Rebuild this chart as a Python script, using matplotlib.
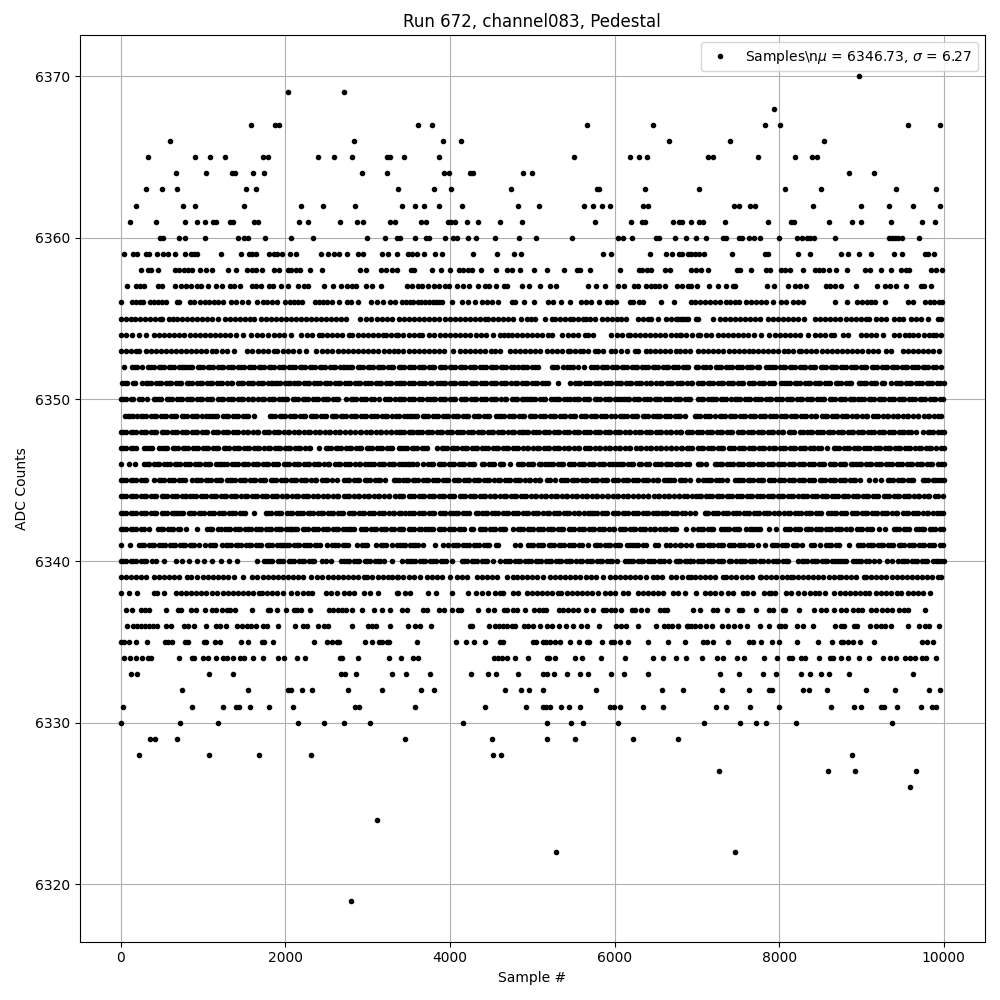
import matplotlib
matplotlib.use("Agg")
import matplotlib.pyplot as plt

# Sample numbers, one list per ADC count level.
# Sparse levels are read dot by dot; in the densest rows, where dots overlap,
# the sample numbers are visual estimates that follow the visible runs and gaps.
s6370 = [8970]
s6369 = [2037, 2718]
s6368 = [7939]
s6367 = [1588, 1879, 1928, 3608, 3778, 5670, 6471, 7830, 8012, 9565, 9953]
s6366 = [603, 2839, 3911, 4129, 6666, 7405, 8546]
s6365 = [336, 907, 1089, 1272, 1729, 1794, 2402, 2596, 2815, 3240, 3272, 3438, 3862, 5513, 6184, 6302, 6399, 7134, 7190, 7745, 8194, 8400, 8461]
s6364 = [676, 1041, 1357, 1385, 1612, 1746, 2936, 3240, 3923, 3984, 4239, 4275, 4882, 4991, 8849, 9152]
s6363 = [312, 506, 689, 1527, 1648, 3374, 3802, 4008, 4736, 5792, 5816, 6374, 7029, 8072, 8509, 9419, 9905]
s6362 = [190, 761, 907, 1503, 2195, 2462, 2851, 3413, 3571, 3680, 3862, 4141, 4821, 5076, 5634, 5743, 5853, 5950, 6350, 6411, 7454, 7514, 7648, 7708, 8412, 8995, 9335, 9626, 9953]
s6361 = [117, 433, 786, 923, 1029, 1126, 1162, 1332, 1369, 1624, 1673, 2171, 2280, 2669, 2876, 2948, 3276, 3337, 3644, 3705, 3972, 4008, 4057, 4202, 4336, 4603, 4870, 5768, 6204, 6338, 6374, 6714, 6787, 6823, 6932, 7029, 7077, 7344, 7866, 8145, 8182, 8606, 8886, 8995, 9359, 9735, 9893]
s6360 = [482, 518, 713, 786, 1029, 1430, 1503, 1551, 1758, 2074, 2341, 2997, 3216, 3361, 3393, 3571, 3705, 3741, 3935, 4032, 4081, 4214, 4311, 4542, 4833, 5040, 5488, 6047, 6107, 6217, 6508, 6544, 6738, 6872, 6993, 7114, 7320, 7357, 7514, 7551, 7636, 7696, 7769, 8000, 8218, 8279, 8340, 8376, 8424, 8679, 9335, 9371, 9407, 9444, 9492, 9699]
s6359 = [45, 154, 202, 312, 349, 446, 518, 579, 664, 786, 859, 895, 932, 1223, 1466, 1563, 1600, 1648, 1806, 1867, 1904, 1964, 2062, 2134, 2438, 2523, 2596, 2657, 2754, 2888, 2948, 3179, 3252, 3361, 3486, 3535, 3595, 3680, 3814, 3899, 4275, 4566, 4773, 4858, 5865, 5962, 6435, 6629, 6702, 6787, 6823, 6896, 6932, 6980, 7029, 7090, 7430, 7830, 7866, 8230, 8376, 8752, 8837, 8970, 9116, 9395, 9492, 9771, 9808, 9880]
s6358 = [251, 336, 373, 458, 664, 713, 774, 822, 871, 968, 1041, 1114, 1308, 1405, 1539, 1600, 1648, 1721, 1867, 1928, 2037, 2074, 2134, 2183, 2304, 2450, 2912, 2985, 3167, 3228, 3301, 3361, 3523, 3559, 3778, 3887, 3996, 4105, 4154, 4214, 4263, 4372, 4554, 4688, 4748, 4845, 5027, 5173, 5391, 5549, 5585, 5707, 6071, 6302, 6338, 6399, 6447, 6614, 6675, 6932, 6992, 7053, 7138, 7490, 7526, 7660, 7842, 7890, 8024, 8072, 8133, 8291, 8437, 8485, 8534, 8606, 8691, 8825, 9043, 9104, 9238, 9359, 9480, 9541, 9577, 9844, 9905, 9978]
s6357 = [81, 190, 239, 288, 458, 506, 664, 737, 798, 859, 932, 980, 1065, 1162, 1235, 1332, 1381, 1454, 1600, 1648, 1709, 1806, 1855, 1952, 2037, 2159, 2232, 2280, 2475, 2584, 2681, 2754, 2815, 2863, 2985, 3058, 3167, 3474, 3535, 3608, 3656, 3729, 3802, 3862, 3935, 3984, 4081, 4154, 4226, 4336, 4421, 4469, 4554, 4651, 4688, 4870, 4955, 5088, 5221, 5294, 5683, 5780, 5889, 6047, 6120, 6241, 6289, 6387, 6447, 6496, 6544, 6617, 6763, 6823, 6896, 6932, 7005, 7150, 7256, 7357, 7441, 7466, 7854, 7939, 8109, 8194, 8255, 8327, 8570, 8619, 8679, 8752, 8934, 9189, 9286, 9347, 9419, 9541, 9723, 9759, 9844]
s6356 = [8, 142, 190, 239, 275, 360, 409, 458, 506, 555, 689, 713, 847, 895, 968, 1029, 1077, 1138, 1187, 1247, 1345, 1405, 1478, 1551, 1660, 1733, 1782, 1843, 1904, 2001, 2062, 2110, 2159, 2207, 2365, 2414, 2462, 2511, 2572, 2657, 2754, 2803, 2888, 3046, 3118, 3191, 3276, 3337, 3413, 3470, 3510, 3555, 3610, 3650, 3700, 3750, 3790, 3830, 3870, 3900, 4020, 4141, 4222, 4303, 4384, 4445, 4506, 4587, 4748, 4789, 4894, 5027, 5193, 5254, 5355, 5460, 5598, 5658, 5719, 5808, 5913, 5962, 6022, 6192, 6229, 6302, 6350, 6569, 6726, 6932, 6972, 7033, 7094, 7154, 7215, 7276, 7357, 7405, 7466, 7510, 7600, 7660, 7720, 7781, 7842, 7923, 8024, 8085, 8165, 8226, 8287, 8679, 8825, 8946, 9007, 9068, 9116, 9165, 9286, 9565, 9626, 9771, 9832, 9880, 9941, 9978]
s6355 = [3, 62, 121, 178, 240, 301, 362, 421, 480, 506, 587, 640, 689, 749, 810, 871, 930, 990, 1052, 1114, 1187, 1268, 1330, 1392, 1455, 1512, 1571, 1620, 1701, 1760, 1822, 1885, 1944, 2006, 2068, 2126, 2187, 2250, 2310, 2369, 2430, 2492, 2553, 2615, 2676, 2734, 2904, 2977, 3040, 3118, 3179, 3240, 3301, 3381, 3440, 3502, 3565, 3626, 3688, 3750, 3811, 3872, 3934, 3995, 4057, 4118, 4180, 4240, 4302, 4365, 4425, 4465, 4526, 4588, 4650, 4710, 4769, 4862, 4930, 4982, 5032, 5153, 5234, 5274, 5336, 5398, 5460, 5497, 5557, 5620, 5658, 5699, 5760, 5848, 5910, 5972, 6034, 6083, 6144, 6285, 6347, 6400, 6447, 6528, 6629, 6690, 6752, 6812, 6872, 6993, 6770, 6830, 6891, 7013, 7195, 7276, 7338, 7399, 7460, 7522, 7584, 7645, 7706, 7761, 7862, 7923, 7985, 8046, 8108, 8170, 8232, 8307, 8437, 8498, 8560, 8621, 8683, 8744, 8813, 8873, 8935, 8996, 9058, 9096, 9177, 9238, 9298, 9399, 9460, 9500, 9601, 9663, 9725, 9804, 9925, 9965]
s6354 = [0, 60, 142, 223, 304, 405, 466, 528, 590, 652, 714, 775, 836, 898, 960, 1022, 1084, 1146, 1208, 1270, 1332, 1397, 1490, 1580, 1660, 1722, 1784, 1863, 1924, 1986, 2066, 2187, 2268, 2330, 2410, 2442, 2504, 2566, 2628, 2690, 2774, 2815, 2877, 2939, 3001, 3063, 3125, 3187, 3220, 3280, 3341, 3373, 3435, 3497, 3559, 3621, 3656, 3745, 3807, 3879, 3939, 4001, 4063, 4125, 4187, 4249, 4311, 4373, 4435, 4526, 4607, 4660, 4708, 4748, 4810, 4872, 4934, 4996, 5058, 5120, 5193, 5242, 5363, 5436, 5498, 5560, 5638, 5680, 5740, 5962, 6024, 6086, 6164, 6184, 6246, 6308, 6370, 6432, 6494, 6556, 6618, 6680, 6742, 6791, 6811, 6873, 6935, 7013, 7033, 7114, 7176, 7255, 7316, 7378, 7440, 7502, 7564, 7626, 7688, 7781, 7882, 7944, 8006, 8068, 8130, 8192, 8254, 8347, 8437, 8499, 8561, 8631, 8671, 8772, 8834, 8995, 9057, 9119, 9181, 9258, 9399, 9461, 9523, 9581, 9622, 9684, 9763, 9824, 9864, 9905, 9965]
s6353 = [0, 60, 122, 180, 223, 304, 365, 427, 489, 547, 607, 669, 731, 793, 855, 917, 979, 1041, 1113, 1154, 1235, 1297, 1377, 1539, 1601, 1663, 1725, 1787, 1863, 1904, 1966, 2028, 2090, 2167, 2247, 2369, 2450, 2511, 2573, 2635, 2697, 2759, 2821, 2883, 2945, 3007, 3069, 3131, 3193, 3255, 3317, 3373, 3435, 3497, 3559, 3621, 3683, 3745, 3807, 3869, 3931, 4040, 4121, 4183, 4245, 4307, 4369, 4431, 4493, 4546, 4607, 4728, 4790, 4850, 4910, 4972, 5034, 5096, 5173, 5234, 5296, 5358, 5436, 5456, 5518, 5580, 5618, 5680, 5760, 5800, 5862, 5962, 6002, 6083, 6145, 6245, 6285, 6387, 6427, 6489, 6551, 6613, 6675, 6750, 6791, 6853, 6915, 7013, 7075, 7137, 7199, 7261, 7323, 7385, 7447, 7509, 7571, 7633, 7680, 7740, 7802, 7864, 7926, 7988, 8064, 8105, 8167, 8246, 8267, 8329, 8391, 8453, 8515, 8577, 8639, 8701, 8763, 8825, 8887, 8949, 9011, 9073, 9135, 9197, 9298, 9359, 9500, 9562, 9624, 9686, 9748, 9810, 9872, 9945]
s6352 = [40, 142, 204, 263, 337, 399, 461, 523, 585, 647, 709, 770, 810, 872, 934, 996, 1058, 1120, 1182, 1244, 1306, 1368, 1430, 1492, 1554, 1616, 1678, 1740, 1802, 1864, 1926, 1988, 2050, 2112, 2174, 2236, 2298, 2360, 2422, 2484, 2546, 2608, 2670, 2714, 2754, 2816, 2878, 2940, 3002, 3064, 3126, 3188, 3250, 3312, 3381, 3440, 3502, 3564, 3626, 3688, 3750, 3812, 3874, 3936, 3998, 4060, 4122, 4184, 4246, 4308, 4370, 4432, 4494, 4556, 4618, 4680, 4742, 4829, 4870, 4932, 4994, 5072, 5242, 5304, 5375, 5428, 5490, 5557, 5630, 5719, 5781, 5843, 5905, 5967, 6029, 6091, 6153, 6215, 6277, 6339, 6401, 6463, 6525, 6587, 6649, 6711, 6773, 6835, 6897, 7013, 7075, 7154, 7235, 7297, 7359, 7421, 7483, 7545, 7607, 7669, 7731, 7842, 7882, 7944, 8006, 8068, 8130, 8192, 8254, 8316, 8378, 8440, 8502, 8564, 8626, 8688, 8750, 8812, 8874, 8936, 8998, 9060, 9122, 9184, 9246, 9308, 9370, 9432, 9494, 9556, 9618, 9680, 9742, 9804, 9866, 9965]
s6351 = [20, 82, 144, 263, 304, 366, 428, 490, 552, 614, 676, 738, 800, 862, 924, 986, 1048, 1110, 1172, 1234, 1296, 1358, 1420, 1482, 1544, 1606, 1668, 1730, 1792, 1843, 1875, 1937, 1999, 2061, 2106, 2168, 2230, 2292, 2354, 2416, 2478, 2540, 2602, 2664, 2726, 2788, 2850, 2912, 2974, 3036, 3098, 3160, 3222, 3284, 3346, 3381, 3443, 3505, 3567, 3629, 3691, 3753, 3838, 3879, 3941, 4003, 4065, 4127, 4189, 4251, 4313, 4375, 4437, 4499, 4561, 4623, 4685, 4747, 4809, 4871, 4933, 4995, 5057, 5119, 5193, 5315, 5460, 5517, 5579, 5641, 5703, 5765, 5827, 5889, 5951, 6013, 6075, 6137, 6199, 6261, 6323, 6385, 6447, 6509, 6571, 6633, 6695, 6757, 6819, 6881, 6943, 7013, 7070, 7132, 7194, 7256, 7318, 7380, 7442, 7504, 7566, 7628, 7690, 7752, 7814, 7876, 7938, 8024, 8064, 8126, 8188, 8250, 8312, 8374, 8436, 8498, 8560, 8622, 8684, 8746, 8808, 8870, 8975, 8995, 9057, 9119, 9181, 9246, 9278, 9359, 9419, 9481, 9543, 9605, 9667, 9729, 9791, 9853, 9915, 10000]
s6350 = [0, 62, 124, 223, 255, 317, 405, 433, 495, 557, 619, 681, 743, 805, 867, 929, 991, 1053, 1115, 1177, 1239, 1301, 1363, 1425, 1487, 1549, 1611, 1673, 1735, 1797, 1859, 1924, 1964, 2026, 2088, 2150, 2212, 2274, 2336, 2398, 2460, 2522, 2584, 2646, 2734, 2795, 2857, 2919, 2981, 3043, 3139, 3212, 3274, 3336, 3381, 3443, 3505, 3567, 3629, 3717, 3757, 3819, 3881, 3943, 4005, 4067, 4129, 4191, 4253, 4315, 4377, 4439, 4501, 4563, 4625, 4687, 4749, 4811, 4873, 4930, 4971, 5033, 5095, 5157, 5226, 5266, 5328, 5390, 5456, 5509, 5571, 5633, 5695, 5757, 5819, 5881, 5943, 6005, 6083, 6115, 6177, 6239, 6301, 6363, 6425, 6487, 6549, 6611, 6673, 6735, 6797, 6859, 6921, 7013, 7075, 7134, 7166, 7228, 7290, 7352, 7417, 7458, 7520, 7582, 7644, 7706, 7781, 7842, 7904, 7966, 8028, 8090, 8152, 8214, 8276, 8338, 8400, 8462, 8530, 8550, 8612, 8674, 8736, 8798, 8860, 8914, 8962, 9024, 9086, 9148, 9210, 9272, 9334, 9396, 9458, 9520, 9582, 9644, 9706, 9768, 9830, 9892, 9986]
s6349 = [53, 115, 202, 243, 305, 367, 429, 491, 553, 615, 677, 739, 801, 863, 925, 987, 1073, 1114, 1176, 1238, 1300, 1362, 1424, 1486, 1548, 1620, 1810, 1872, 1934, 1996, 2058, 2120, 2182, 2244, 2306, 2368, 2430, 2492, 2572, 2612, 2674, 2736, 2798, 2860, 2922, 2984, 3046, 3108, 3170, 3232, 3294, 3381, 3443, 3515, 3543, 3605, 3667, 3729, 3791, 3853, 3915, 3977, 4039, 4101, 4163, 4225, 4287, 4349, 4411, 4473, 4554, 4595, 4657, 4719, 4781, 4843, 4905, 4967, 5029, 5091, 5153, 5215, 5277, 5339, 5401, 5463, 5525, 5587, 5649, 5711, 5773, 5835, 5897, 5959, 6063, 6091, 6153, 6215, 6277, 6346, 6407, 6469, 6508, 6548, 6610, 6672, 6734, 6796, 6858, 6973, 7035, 7097, 7159, 7215, 7276, 7336, 7398, 7460, 7522, 7584, 7646, 7708, 7770, 7832, 7894, 7956, 8018, 8080, 8142, 8204, 8266, 8328, 8390, 8452, 8514, 8576, 8638, 8700, 8762, 8824, 8886, 8948, 9010, 9072, 9134, 9196, 9258, 9320, 9382, 9444, 9506, 9568, 9630, 9692, 9754, 9816, 9878, 9965]
s6348 = [0, 62, 124, 186, 248, 310, 372, 434, 496, 558, 620, 682, 744, 806, 868, 930, 992, 1054, 1116, 1178, 1240, 1302, 1364, 1426, 1488, 1550, 1612, 1674, 1736, 1798, 1860, 1922, 1984, 2046, 2108, 2170, 2232, 2294, 2356, 2418, 2480, 2542, 2604, 2666, 2728, 2790, 2852, 2914, 2976, 3038, 3100, 3162, 3224, 3286, 3348, 3381, 3443, 3505, 3555, 3595, 3657, 3719, 3781, 3843, 3905, 3967, 4029, 4091, 4153, 4215, 4277, 4339, 4401, 4463, 4525, 4587, 4649, 4711, 4773, 4835, 4870, 4890, 4952, 5014, 5076, 5138, 5200, 5262, 5324, 5386, 5448, 5510, 5572, 5634, 5696, 5758, 5820, 5882, 5944, 6006, 6068, 6130, 6192, 6254, 6316, 6378, 6440, 6502, 6564, 6626, 6688, 6750, 6812, 6874, 6936, 6998, 7060, 7122, 7184, 7246, 7308, 7370, 7432, 7494, 7556, 7618, 7680, 7742, 7804, 7866, 7928, 7990, 8052, 8114, 8176, 8287, 8340, 8402, 8464, 8526, 8588, 8650, 8712, 8774, 8836, 8898, 8960, 9022, 9084, 9146, 9208, 9270, 9332, 9394, 9456, 9518, 9601, 9666, 9743, 9805, 9867, 9929, 10000]
s6347 = [0, 62, 124, 186, 284, 324, 386, 466, 506, 568, 630, 692, 754, 816, 878, 940, 1002, 1064, 1126, 1188, 1250, 1312, 1374, 1436, 1498, 1560, 1622, 1684, 1746, 1808, 1870, 1932, 1994, 2056, 2118, 2180, 2242, 2304, 2414, 2491, 2553, 2615, 2677, 2739, 2801, 2863, 2925, 2987, 3049, 3111, 3173, 3235, 3297, 3381, 3405, 3474, 3536, 3598, 3660, 3722, 3838, 3899, 3961, 4023, 4085, 4147, 4209, 4271, 4333, 4395, 4457, 4519, 4581, 4643, 4705, 4767, 4829, 4891, 4953, 5015, 5077, 5139, 5201, 5263, 5325, 5387, 5449, 5511, 5573, 5635, 5697, 5759, 5821, 5883, 5945, 6007, 6069, 6131, 6193, 6255, 6317, 6379, 6441, 6503, 6565, 6627, 6689, 6751, 6813, 6875, 6937, 7013, 7075, 7137, 7199, 7261, 7323, 7385, 7447, 7509, 7571, 7633, 7695, 7757, 7819, 7881, 7943, 8005, 8067, 8129, 8191, 8253, 8315, 8377, 8428, 8469, 8509, 8578, 8663, 8725, 8787, 8849, 8911, 8973, 9035, 9097, 9159, 9221, 9283, 9345, 9407, 9469, 9531, 9593, 9655, 9717, 9779, 9841, 9903, 10000]
s6346 = [0, 101, 174, 284, 346, 408, 470, 532, 594, 656, 718, 780, 842, 904, 966, 1028, 1090, 1152, 1214, 1256, 1296, 1358, 1420, 1482, 1544, 1606, 1668, 1730, 1792, 1854, 1916, 1978, 2040, 2102, 2164, 2226, 2288, 2350, 2412, 2474, 2536, 2598, 2660, 2722, 2784, 2846, 2908, 2970, 3038, 3078, 3140, 3202, 3264, 3326, 3381, 3413, 3454, 3516, 3595, 3676, 3738, 3800, 3862, 3924, 3986, 4048, 4110, 4172, 4234, 4296, 4384, 4417, 4479, 4541, 4603, 4647, 4728, 4829, 4891, 4953, 5015, 5077, 5153, 5193, 5255, 5317, 5379, 5441, 5503, 5565, 5627, 5689, 5751, 5813, 5875, 5937, 6002, 6043, 6105, 6167, 6229, 6291, 6387, 6415, 6496, 6558, 6620, 6682, 6744, 6806, 6868, 7013, 7053, 7115, 7215, 7247, 7309, 7371, 7433, 7495, 7557, 7619, 7681, 7743, 7805, 7867, 7929, 7991, 8053, 8115, 8177, 8239, 8301, 8363, 8425, 8487, 8549, 8611, 8673, 8735, 8797, 8894, 8934, 8995, 9055, 9117, 9179, 9241, 9303, 9365, 9427, 9489, 9551, 9613, 9675, 9737, 9799, 9861, 9923, 10000]
s6345 = [0, 62, 124, 186, 248, 310, 405, 466, 528, 590, 652, 714, 776, 871, 911, 973, 1035, 1097, 1159, 1221, 1296, 1324, 1386, 1448, 1510, 1572, 1634, 1696, 1758, 1820, 1882, 1944, 2006, 2068, 2130, 2192, 2254, 2316, 2378, 2440, 2502, 2572, 2633, 2714, 2776, 2838, 2900, 2962, 3024, 3086, 3148, 3210, 3321, 3381, 3434, 3486, 3548, 3610, 3672, 3734, 3796, 3858, 3920, 3982, 4044, 4106, 4168, 4230, 4292, 4354, 4416, 4478, 4540, 4602, 4664, 4726, 4788, 4850, 4912, 4974, 5036, 5098, 5173, 5213, 5274, 5355, 5417, 5479, 5541, 5603, 5665, 5727, 5789, 5851, 5913, 5975, 6037, 6099, 6161, 6223, 6285, 6347, 6409, 6471, 6533, 6595, 6657, 6719, 6790, 6859, 6921, 7013, 7073, 7114, 7176, 7238, 7300, 7362, 7458, 7498, 7560, 7622, 7684, 7746, 7808, 7870, 7932, 7994, 8056, 8118, 8180, 8242, 8304, 8366, 8428, 8490, 8552, 8614, 8676, 8738, 8800, 8862, 8924, 8986, 9096, 9165, 9238, 9318, 9380, 9442, 9504, 9566, 9628, 9743, 9804, 9866, 9928, 10000]
s6344 = [0, 62, 124, 186, 248, 310, 372, 434, 496, 558, 620, 682, 744, 798, 847, 909, 971, 1033, 1095, 1157, 1219, 1281, 1343, 1405, 1467, 1529, 1591, 1653, 1715, 1777, 1839, 1901, 1963, 2025, 2087, 2149, 2211, 2273, 2335, 2397, 2459, 2521, 2583, 2645, 2707, 2769, 2831, 2893, 2955, 3017, 3079, 3141, 3203, 3265, 3327, 3381, 3435, 3497, 3559, 3621, 3683, 3745, 3807, 3869, 3931, 3993, 4055, 4117, 4179, 4241, 4303, 4365, 4427, 4489, 4551, 4613, 4675, 4737, 4799, 4861, 4923, 4985, 5047, 5109, 5171, 5233, 5295, 5357, 5419, 5481, 5543, 5605, 5667, 5729, 5791, 5853, 5915, 5977, 6039, 6101, 6163, 6225, 6287, 6349, 6411, 6473, 6535, 6597, 6659, 6721, 6783, 6845, 6940, 6992, 7054, 7116, 7178, 7240, 7302, 7364, 7426, 7488, 7550, 7612, 7674, 7736, 7798, 7860, 7922, 7984, 8046, 8108, 8170, 8226, 8275, 8337, 8399, 8461, 8523, 8585, 8647, 8709, 8771, 8833, 8895, 8957, 9019, 9081, 9143, 9205, 9267, 9329, 9391, 9453, 9515, 9577, 9639, 9701, 9763, 9825, 9887, 9986]
s6343 = [0, 62, 124, 186, 248, 310, 372, 434, 496, 558, 620, 668, 701, 763, 825, 887, 949, 1011, 1073, 1135, 1197, 1259, 1321, 1383, 1445, 1507, 1620, 1762, 1824, 1886, 1948, 2025, 2086, 2148, 2210, 2272, 2334, 2396, 2458, 2520, 2582, 2644, 2706, 2768, 2830, 2892, 2954, 3016, 3078, 3140, 3202, 3264, 3326, 3381, 3454, 3502, 3564, 3626, 3688, 3750, 3812, 3874, 3936, 4000, 4040, 4102, 4164, 4226, 4344, 4392, 4454, 4516, 4578, 4640, 4702, 4764, 4826, 4888, 4950, 5012, 5074, 5136, 5198, 5260, 5322, 5384, 5446, 5508, 5570, 5632, 5699, 5727, 5789, 5851, 5913, 5975, 6037, 6099, 6161, 6223, 6285, 6347, 6409, 6471, 6528, 6577, 6639, 6701, 6763, 6852, 6912, 6974, 7094, 7134, 7196, 7258, 7320, 7382, 7444, 7506, 7568, 7630, 7692, 7754, 7816, 7878, 7940, 8002, 8064, 8126, 8188, 8267, 8327, 8389, 8451, 8513, 8590, 8631, 8693, 8755, 8817, 8879, 8941, 9003, 9065, 9127, 9189, 9251, 9313, 9375, 9437, 9499, 9561, 9623, 9685, 9747, 9809, 9871, 9986]
s6342 = [0, 62, 124, 186, 248, 344, 454, 516, 578, 640, 725, 798, 932, 1053, 1115, 1215, 1268, 1330, 1392, 1454, 1516, 1578, 1640, 1702, 1764, 1826, 1888, 1950, 2012, 2066, 2086, 2148, 2210, 2272, 2334, 2396, 2458, 2520, 2582, 2644, 2706, 2768, 2835, 2916, 2978, 3040, 3102, 3164, 3226, 3288, 3381, 3435, 3497, 3559, 3621, 3697, 3737, 3799, 3861, 3923, 3985, 4047, 4109, 4171, 4283, 4364, 4426, 4488, 4550, 4612, 4674, 4769, 4821, 4883, 4945, 5007, 5069, 5131, 5193, 5255, 5317, 5379, 5441, 5503, 5565, 5627, 5689, 5751, 5813, 5875, 5937, 5999, 6061, 6123, 6185, 6247, 6309, 6371, 6433, 6495, 6557, 6619, 6681, 6743, 6872, 6953, 7013, 7075, 7137, 7199, 7288, 7328, 7390, 7452, 7514, 7599, 7640, 7702, 7764, 7882, 7963, 8072, 8134, 8196, 8258, 8320, 8382, 8444, 8506, 8568, 8630, 8692, 8754, 8816, 8878, 8940, 9002, 9064, 9126, 9217, 9286, 9391, 9453, 9515, 9577, 9662, 9703, 9765, 9827, 9889, 9986]
s6341 = [8, 109, 223, 285, 347, 409, 471, 533, 595, 657, 719, 781, 843, 891, 951, 1025, 1087, 1149, 1235, 1276, 1338, 1400, 1462, 1524, 1586, 1648, 1710, 1772, 1834, 1896, 1964, 1985, 2047, 2109, 2171, 2233, 2295, 2357, 2419, 2511, 2572, 2634, 2696, 2758, 2876, 2936, 2998, 3098, 3159, 3221, 3301, 3361, 3393, 3455, 3517, 3575, 3616, 3678, 3818, 3919, 3980, 4040, 4102, 4164, 4226, 4288, 4350, 4412, 4474, 4586, 4789, 4850, 4950, 5012, 5074, 5136, 5198, 5260, 5322, 5384, 5446, 5508, 5570, 5679, 5759, 5821, 5883, 5945, 6007, 6069, 6184, 6225, 6287, 6349, 6487, 6528, 6629, 6670, 6732, 6811, 6872, 6934, 7013, 6790, 7075, 7137, 7199, 7261, 7323, 7385, 7447, 7509, 7571, 7633, 7741, 7830, 7911, 7973, 8035, 8097, 8165, 8218, 8280, 8388, 8428, 8501, 8570, 8632, 8694, 8853, 8954, 9016, 9078, 9140, 9202, 9264, 9326, 9388, 9450, 9512, 9574, 9636, 9698, 9760, 9822, 9884, 9986]
s6340 = [0, 62, 124, 186, 248, 310, 385, 433, 527, 676, 749, 830, 932, 1012, 1114, 1215, 1316, 1418, 1660, 1742, 1782, 1844, 1906, 1968, 2045, 2106, 2168, 2230, 2292, 2354, 2450, 2491, 2553, 2673, 2714, 2776, 2838, 2900, 2962, 3024, 3086, 3148, 3200, 3293, 3413, 3474, 3515, 3577, 3639, 3701, 3763, 3825, 3887, 3949, 4020, 4141, 4203, 4265, 4327, 4389, 4451, 4526, 4607, 4669, 4731, 4793, 4855, 4917, 4979, 5041, 5103, 5165, 5227, 5289, 5351, 5413, 5475, 5537, 5599, 5661, 5723, 5785, 5847, 5909, 5971, 6033, 6124, 6164, 6226, 6288, 6350, 6412, 6474, 6536, 6598, 6660, 6751, 6791, 6853, 6915, 7013, 6770, 6912, 6952, 7075, 7137, 7199, 7261, 7323, 7385, 7478, 7519, 7581, 7643, 7705, 7767, 7862, 7923, 7985, 8047, 8109, 8226, 8275, 8337, 8399, 8461, 8523, 8585, 8647, 8712, 8752, 8814, 8894, 8934, 8996, 9058, 9157, 9217, 9310, 9372, 9440, 9488, 9550, 9612, 9674, 9736, 9798, 9864, 9905, 9967, 10000]
s6339 = [0, 62, 124, 186, 248, 310, 405, 466, 528, 590, 652, 714, 810, 858, 932, 994, 1056, 1118, 1180, 1242, 1304, 1377, 1490, 1600, 1662, 1724, 1786, 1848, 1910, 1972, 2034, 2096, 2158, 2220, 2308, 2389, 2451, 2513, 2575, 2637, 2699, 2761, 2823, 2885, 2957, 2997, 3059, 3121, 3183, 3245, 3301, 3361, 3373, 3435, 3497, 3559, 3636, 3717, 3779, 3841, 3903, 4000, 4081, 4143, 4202, 4324, 4386, 4448, 4510, 4566, 4688, 4769, 4809, 4871, 4933, 4995, 5057, 5133, 5213, 5275, 5337, 5399, 5461, 5523, 5585, 5647, 5709, 5771, 5861, 5942, 6004, 6066, 6128, 6190, 6252, 6314, 6376, 6467, 6520, 6582, 6690, 6751, 6813, 6892, 6933, 6972, 7033, 7095, 7157, 7219, 7316, 7357, 7419, 7481, 7543, 7605, 7667, 7761, 7781, 7843, 7905, 7967, 8029, 8091, 8145, 8166, 8228, 8290, 8352, 8414, 8476, 8538, 8600, 8662, 8732, 8752, 8814, 8876, 8938, 9035, 9055, 9117, 9179, 9241, 9303, 9365, 9427, 9489, 9551, 9613, 9675, 9737, 9799, 9861, 9925, 9965]
s6338 = [0, 101, 202, 405, 446, 527, 668, 730, 792, 854, 916, 978, 1033, 1114, 1176, 1238, 1300, 1362, 1424, 1486, 1548, 1610, 1680, 1721, 1782, 1843, 1905, 1967, 2066, 2147, 2209, 2271, 2329, 2491, 2553, 2633, 2714, 2776, 2838, 2957, 3025, 3131, 3361, 3373, 3454, 3515, 3737, 3826, 4028, 4214, 4311, 4384, 4457, 4546, 4608, 4647, 4769, 4829, 4930, 4991, 5053, 5115, 5177, 5239, 5315, 5355, 5417, 5479, 5541, 5603, 5665, 5727, 5800, 5881, 5943, 6005, 6103, 6164, 6285, 6347, 6409, 6471, 6533, 6589, 6710, 6771, 6860, 6993, 7094, 7156, 7218, 7296, 7377, 7439, 7559, 7611, 7684, 7814, 7876, 7903, 7951, 8085, 8147, 8226, 8307, 8369, 8431, 8489, 8558, 8671, 8733, 8795, 8857, 8919, 8981, 9043, 9096, 9177, 9239, 9301, 9363, 9425, 9480, 9561, 9623, 9685, 9743, 9832]
s6337 = [61, 134, 251, 300, 349, 555, 701, 737, 859, 919, 1029, 1114, 1162, 1235, 1296, 1332, 1393, 1600, 1794, 1818, 1904, 2013, 2110, 2147, 2195, 2304, 2535, 2584, 2645, 2693, 2742, 2815, 2936, 3082, 3171, 3276, 3413, 3474, 3668, 3717, 3862, 3923, 4020, 4093, 4129, 4336, 4457, 4530, 4651, 4688, 4760, 4809, 4906, 5027, 5076, 5125, 5161, 5319, 5379, 5440, 5489, 5561, 5658, 5743, 5865, 5901, 5962, 6011, 6083, 6217, 6253, 6323, 6399, 6557, 6605, 6642, 6957, 7041, 7199, 7247, 7369, 7514, 7551, 7721, 7878, 7927, 8048, 8072, 8238, 8424, 8509, 8570, 8667, 8752, 8813, 8898, 8958, 9007, 9116, 9177, 9250, 9310, 9371, 9456, 9517, 9565, 9767]
s6336 = [81, 154, 202, 251, 300, 349, 397, 446, 555, 616, 774, 822, 895, 1041, 1162, 1211, 1284, 1418, 1478, 1539, 1588, 1648, 1733, 1782, 1916, 2122, 2219, 2268, 2402, 2475, 2523, 2815, 3009, 3058, 3106, 3276, 3486, 3571, 3632, 3765, 4239, 4263, 4469, 4542, 4591, 4639, 4688, 4748, 4785, 4894, 4943, 5015, 5088, 5185, 5234, 5319, 5404, 5489, 5598, 5671, 5816, 6022, 6083, 6144, 6289, 6508, 6605, 6654, 6702, 6775, 6896, 6981, 6770, 6883, 6932, 7041, 7114, 7187, 7308, 7381, 7454, 7526, 7611, 7769, 7878, 8000, 8024, 8072, 8218, 8291, 8412, 8679, 8752, 8788, 8910, 8946, 9104, 9177, 9238, 9286, 9359, 9565, 9699, 9771, 9820, 9941]
s6335 = [8, 45, 105, 190, 324, 543, 579, 628, 786, 822, 1017, 1041, 1150, 1211, 1466, 1551, 1721, 1746, 1855, 2353, 2511, 2572, 2633, 2657, 2973, 3058, 3143, 3179, 3240, 3264, 3595, 4069, 4190, 4287, 4421, 4603, 4639, 5003, 5040, 5125, 5161, 5221, 5282, 5331, 5464, 5573, 5671, 5695, 5853, 5962, 5998, 6071, 6168, 6411, 6654, 6860, 7077, 7126, 7199, 7381, 7636, 7684, 7781, 7915, 8000, 8218, 8473, 8643, 8752, 8776, 8837, 8898, 8979, 9152, 9735, 9796, 9868]
s6334 = [45, 117, 190, 263, 336, 373, 713, 871, 895, 1005, 1065, 1162, 1247, 1296, 1369, 1454, 1503, 1612, 1733, 1916, 1988, 2147, 2244, 2669, 2693, 2888, 3264, 3401, 3547, 3608, 4530, 4578, 4627, 4688, 4785, 4943, 5173, 5209, 5282, 5525, 5610, 5841, 6132, 6471, 6593, 6751, 6872, 7065, 7247, 7320, 7490, 7575, 7818, 7975, 8121, 8157, 8267, 8315, 8485, 8619, 8655, 8752, 8837, 8970, 9092, 9262, 9347, 9419, 9529, 9589, 9650, 9735, 9784, 9905]
s6333 = [130, 202, 1077, 1369, 2681, 2730, 2863, 3301, 3462, 3753, 4251, 4457, 4554, 4821, 5125, 5185, 5270, 5416, 5585, 5683, 5962, 6120, 6411, 7284, 7514, 7805, 7963, 8267, 8376, 8509, 8606, 8849, 9626]
s6332 = [749, 1551, 2037, 2074, 2207, 2329, 2766, 3179, 3644, 3802, 4663, 4858, 4955, 5125, 5780, 6581, 6836, 7308, 7636, 7878, 7915, 8291, 8364, 8582, 9055, 9407, 9820, 9953]
s6331 = [32, 871, 1247, 1405, 1442, 1575, 1806, 2098, 2851, 2900, 3571, 4421, 4918, 5125, 5161, 5221, 5355, 5452, 5585, 5950, 5998, 6071, 6350, 6593, 7235, 7357, 7648, 8000, 8631, 8910, 8995, 9238, 9274, 9432, 9723, 9856, 9905]
s6330 = [8, 725, 1187, 2159, 2475, 2718, 3034, 4154, 5185, 5476, 5622, 6047, 7090, 7526, 7721, 7842, 8206, 9371]
s6329 = [360, 421, 689, 3450, 4506, 5185, 5525, 6229, 6775]
s6328 = [227, 1077, 1685, 2317, 4518, 4615, 8886]
s6327 = [7272, 8594, 8922, 9662]
s6326 = [9589]
s6324 = [3118]
s6322 = [5294, 7466]
s6319 = [2803]

# More samples in the rows where the dots merge into solid bands.
more6352 = [170, 370, 490, 616, 740, 840, 965, 1090, 1215, 1340, 1460, 1585, 1710, 1830, 1955, 2080, 2205, 2330, 2450, 2575, 2700, 2785, 2910, 3030, 3155, 3280, 3410, 3530, 3655, 3780, 3905, 4030, 4150, 4275, 4400, 4525, 4650, 4775, 4900, 5030, 5270, 5460, 5750, 5875, 6000, 6120, 6245, 6370, 6495, 6620, 6740, 6865, 6990, 7105, 7265, 7390, 7515, 7640, 7760, 7915, 8040, 8160, 8285, 8410, 8530, 8655, 8780, 8905, 9030, 9155, 9280, 9400, 9525, 9650, 9775, 9900]
more6351 = [50, 175, 335, 460, 585, 710, 835, 960, 1085, 1210, 1335, 1460, 1585, 1710, 1820, 1905, 2030, 2140, 2265, 2390, 2510, 2635, 2760, 2885, 3010, 3135, 3260, 3410, 3535, 3660, 3785, 3910, 4035, 4160, 4285, 4410, 4535, 4660, 4785, 4910, 5035, 5160, 5550, 5675, 5800, 5925, 6050, 6175, 6300, 6425, 6550, 6675, 6800, 6925, 7045, 7165, 7290, 7415, 7540, 7665, 7790, 7915, 8095, 8220, 8345, 8470, 8595, 8720, 8845, 9025, 9150, 9450, 9575, 9700, 9825, 9950]
more6350 = [30, 155, 465, 590, 715, 840, 965, 1090, 1215, 1340, 1465, 1590, 1715, 1840, 1995, 2120, 2245, 2370, 2495, 2620, 2825, 2950, 3075, 3245, 3410, 3535, 3660, 3790, 3915, 4040, 4165, 4290, 4415, 4540, 4665, 4790, 4905, 5000, 5125, 5295, 5420, 5540, 5665, 5790, 5915, 6040, 6150, 6270, 6395, 6520, 6645, 6770, 6895, 7045, 7200, 7320, 7490, 7615, 7740, 7875, 8000, 8125, 8250, 8375, 8500, 8640, 8765, 8890, 8990, 9115, 9240, 9365, 9490, 9615, 9740, 9865, 9950]
more6349 = [85, 145, 275, 400, 525, 650, 775, 900, 1035, 1150, 1275, 1400, 1525, 1840, 1965, 2090, 2215, 2340, 2465, 2590, 2705, 2830, 2955, 3080, 3205, 3340, 3475, 3575, 3700, 3825, 3950, 4075, 4200, 4325, 4450, 4625, 4750, 4875, 5000, 5125, 5250, 5375, 5500, 5625, 5750, 5875, 6000, 6120, 6245, 6375, 6530, 6640, 6765, 7005, 7130, 7305, 7430, 7555, 7680, 7805, 7930, 8055, 8180, 8305, 8430, 8555, 8680, 8805, 8930, 9055, 9180, 9305, 9430, 9555, 9680, 9805, 9930]
more6348 = [30, 155, 280, 405, 530, 655, 780, 905, 1030, 1155, 1280, 1405, 1530, 1655, 1780, 1905, 2030, 2155, 2280, 2405, 2530, 2655, 2780, 2905, 3030, 3155, 3280, 3410, 3530, 3625, 3750, 3875, 4000, 4125, 4250, 4375, 4500, 4625, 4750, 4920, 5045, 5170, 5295, 5420, 5545, 5670, 5795, 5920, 6045, 6170, 6295, 6420, 6545, 6670, 6795, 6905, 7030, 7155, 7280, 7405, 7530, 7655, 7780, 7905, 8030, 8145, 8255, 8370, 8495, 8620, 8745, 8870, 8995, 9120, 9245, 9370, 9495, 9560, 9835, 9960]
more6347 = [30, 155, 355, 535, 660, 785, 910, 1035, 1160, 1285, 1410, 1535, 1660, 1785, 1910, 2035, 2160, 2285, 2520, 2645, 2770, 2895, 3020, 3145, 3270, 3440, 3565, 3690, 3930, 4055, 4180, 4305, 4430, 4555, 4680, 4805, 4930, 5055, 5180, 5305, 5430, 5555, 5680, 5805, 5930, 6055, 6180, 6305, 6430, 6555, 6680, 6805, 6905, 7045, 7170, 7295, 7420, 7545, 7670, 7795, 7920, 8045, 8170, 8295, 8410, 8695, 8820, 8945, 9070, 9195, 9320, 9445, 9570, 9695, 9820, 9960]
more6346 = [315, 440, 565, 690, 815, 940, 1065, 1190, 1390, 1515, 1640, 1765, 1890, 2015, 2140, 2265, 2390, 2515, 2640, 2765, 2890, 3000, 3170, 3295, 3485, 3555, 3770, 3895, 4020, 4145, 4265, 4510, 4620, 4860, 4985, 5110, 5225, 5350, 5475, 5600, 5725, 5850, 5970, 6075, 6200, 6320, 6525, 6650, 6775, 6900, 7030, 7280, 7400, 7525, 7650, 7775, 7900, 8025, 8150, 8275, 8400, 8525, 8650, 8775, 8870, 8965, 9085, 9210, 9335, 9460, 9585, 9710, 9835, 9960]
more6345 = [30, 155, 280, 495, 620, 745, 940, 1065, 1190, 1355, 1480, 1605, 1730, 1855, 1980, 2105, 2230, 2355, 2480, 2745, 2870, 2995, 3120, 3350, 3465, 3580, 3705, 3830, 3955, 4080, 4205, 4330, 4455, 4580, 4705, 4830, 4955, 5080, 5385, 5510, 5635, 5760, 5885, 6010, 6135, 6260, 6385, 6510, 6635, 6690, 6825, 7145, 7270, 7525, 7650, 7775, 7900, 8025, 8150, 8275, 8400, 8525, 8650, 8775, 8900, 9350, 9475, 9600, 9775, 9895, 9960]
more6344 = [30, 155, 280, 405, 530, 655, 780, 880, 1005, 1130, 1255, 1380, 1505, 1630, 1755, 1880, 2005, 2130, 2255, 2380, 2505, 2630, 2755, 2880, 3005, 3130, 3255, 3405, 3530, 3655, 3780, 3905, 4030, 4155, 4280, 4405, 4530, 4655, 4780, 4905, 5030, 5155, 5280, 5405, 5530, 5655, 5780, 5905, 6030, 6155, 6280, 6405, 6530, 6655, 6780, 6880, 7020, 7145, 7270, 7395, 7520, 7645, 7770, 7895, 8020, 8145, 8305, 8430, 8555, 8680, 8805, 8930, 9055, 9180, 9305, 9430, 9555, 9680, 9805, 9930]
more6343 = [30, 155, 280, 405, 530, 650, 730, 855, 980, 1105, 1230, 1355, 1480, 1795, 1920, 2055, 2180, 2305, 2430, 2555, 2680, 2805, 2930, 3055, 3180, 3305, 3410, 3535, 3660, 3785, 3910, 4070, 4195, 4320, 4425, 4550, 4675, 4800, 4925, 5050, 5175, 5300, 5425, 5550, 5675, 5755, 5880, 6005, 6130, 6255, 6380, 6505, 6610, 6735, 6820, 7115, 7230, 7355, 7480, 7605, 7730, 7855, 7980, 8105, 8230, 8360, 8485, 8665, 8790, 8915, 9040, 9165, 9290, 9415, 9540, 9665, 9790, 9915, 9950]
more6342 = [30, 155, 280, 485, 610, 700, 1085, 1180, 1300, 1425, 1550, 1675, 1800, 1925, 2050, 2115, 2240, 2365, 2490, 2615, 2740, 2800, 2950, 3075, 3200, 3320, 3405, 3530, 3650, 3770, 3890, 4015, 4140, 4250, 4395, 4520, 4645, 4850, 4975, 5100, 5225, 5350, 5475, 5600, 5725, 5850, 5975, 6100, 6225, 6350, 6475, 6600, 6725, 7045, 7170, 7360, 7485, 7670, 7740, 8105, 8230, 8355, 8480, 8605, 8730, 8855, 8980, 9105, 9420, 9545, 9735, 9860, 9955]
more6341 = [255, 380, 505, 630, 755, 870, 1120, 1305, 1430, 1555, 1680, 1805, 1930, 2015, 2140, 2265, 2390, 2600, 2725, 2965, 3190, 3425, 3550, 4070, 4195, 4320, 4445, 4555, 4980, 5105, 5230, 5355, 5480, 5605, 5790, 5915, 6040, 6155, 6255, 6380, 7040, 7165, 7290, 7415, 7540, 7665, 7940, 8065, 8190, 8600, 8725, 8985, 9110, 9235, 9360, 9485, 9610, 9735, 9860, 9955]
more6340 = [30, 155, 280, 1812, 1937, 2075, 2200, 2325, 2745, 2870, 2995, 3120, 3545, 3670, 3795, 3920, 4170, 4295, 4420, 4700, 4825, 4950, 5075, 5200, 5325, 5450, 5575, 5700, 5825, 5950, 6195, 6320, 6445, 6570, 6885, 7045, 7170, 7295, 7420, 7550, 7675, 7800, 7955, 8080, 8305, 8430, 8555, 8680, 8785, 8965, 9090, 9520, 9645, 9770, 9935]

levels = [6370, 6369, 6368, 6367, 6366, 6365, 6364, 6363, 6362, 6361, 6360, 6359, 6358, 6357, 6356, 6355, 6354,
          6353, 6352, 6351, 6350, 6349, 6348, 6347, 6346, 6345, 6344, 6343, 6342, 6341, 6340, 6339, 6338, 6337,
          6336, 6335, 6334, 6333, 6332, 6331, 6330, 6329, 6328, 6327, 6326, 6324, 6322, 6319,
          6352, 6351, 6350, 6349, 6348, 6347, 6346, 6345, 6344, 6343, 6342, 6341, 6340]
samples = [s6370, s6369, s6368, s6367, s6366, s6365, s6364, s6363, s6362, s6361, s6360, s6359, s6358, s6357, s6356, s6355, s6354,
           s6353, s6352, s6351, s6350, s6349, s6348, s6347, s6346, s6345, s6344, s6343, s6342, s6341, s6340, s6339, s6338, s6337,
           s6336, s6335, s6334, s6333, s6332, s6331, s6330, s6329, s6328, s6327, s6326, s6324, s6322, s6319,
           more6352, more6351, more6350, more6349, more6348, more6347, more6346, more6345, more6344, more6343, more6342, more6341, more6340]

title = "Run 672, channel083, Pedestal"
legend_label = "Samples\\n$\\mu$ = 6346.73, $\\sigma$ = 6.27"

xs = []
ys = []
for level, row in zip(levels, samples):
    xs.extend(row)
    ys.extend([level] * len(row))

fig, ax = plt.subplots(figsize=(10, 10), dpi=100)
ax.plot(xs, ys, "k.", label=legend_label)
ax.set_title(title)
ax.set_xlabel("Sample #")
ax.set_ylabel("ADC Counts")
ax.grid(True)
ax.legend(loc="upper right")
fig.tight_layout()
fig.subplots_adjust(top=0.965)
fig.savefig("out.png", dpi=100)
